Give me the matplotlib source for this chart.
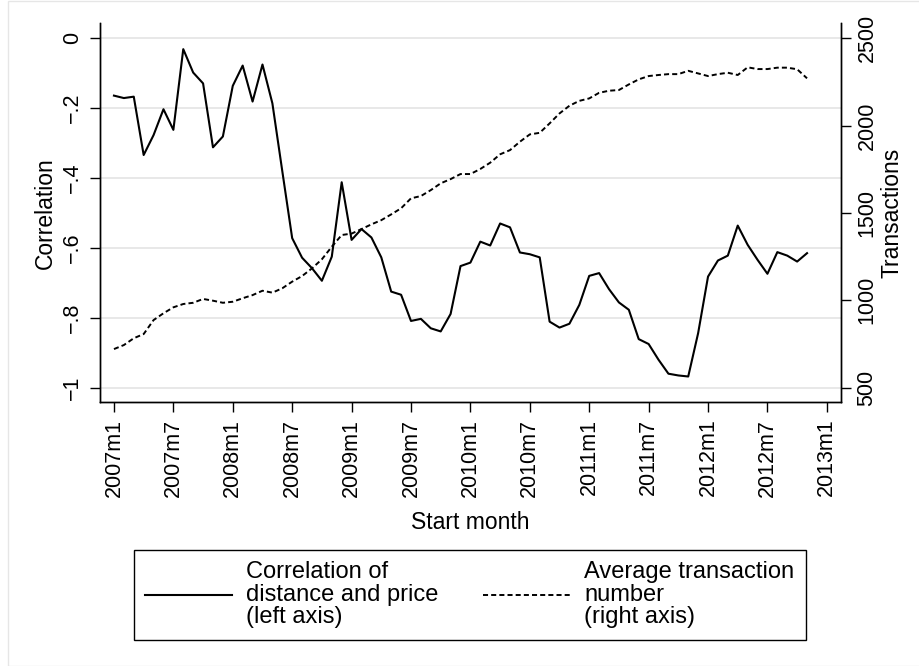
import numpy as np
import matplotlib.pyplot as plt
from matplotlib.patches import Rectangle

plt.rcParams['font.family'] = ['Liberation Sans', 'DejaVu Sans']

# ---- data (monthly, 2007m1 .. 2012m11) ----
month_idx = np.arange(71)                 # months since 2007m1
corr = [-0.164, -0.171, -0.167, -0.334, -0.277, -0.203, -0.262, -0.031, -0.098, -0.129,
        -0.312, -0.281, -0.136, -0.078, -0.181, -0.075, -0.186, -0.380, -0.572, -0.628,
        -0.658, -0.694, -0.625, -0.412, -0.577, -0.546, -0.570, -0.627, -0.725, -0.734,
        -0.809, -0.803, -0.830, -0.839, -0.789, -0.652, -0.642, -0.582, -0.593, -0.530,
        -0.541, -0.613, -0.618, -0.627, -0.811, -0.828, -0.817, -0.763, -0.680, -0.672,
        -0.718, -0.756, -0.777, -0.861, -0.875, -0.920, -0.960, -0.965, -0.968, -0.844,
        -0.682, -0.636, -0.622, -0.536, -0.591, -0.634, -0.674, -0.612, -0.622, -0.639,
        -0.615]
trans = [721, 744, 783, 807, 887, 926, 960, 979, 986, 1008,
         998, 986, 992, 1012, 1030, 1055, 1044, 1069, 1107, 1139,
         1183, 1235, 1307, 1374, 1382, 1408, 1435, 1459, 1492, 1527,
         1584, 1597, 1631, 1670, 1694, 1723, 1723, 1752, 1788, 1836,
         1860, 1908, 1950, 1959, 2013, 2070, 2114, 2142, 2156, 2188,
         2200, 2204, 2236, 2265, 2284, 2290, 2295, 2295, 2314, 2299,
         2284, 2295, 2303, 2290, 2334, 2324, 2324, 2332, 2332, 2323,
         2271]

xtick_pos = np.arange(0, 73, 6)
xtick_labels = ['2007m1', '2007m7', '2008m1', '2008m7', '2009m1', '2009m7', '2010m1',
                '2010m7', '2011m1', '2011m7', '2012m1', '2012m7', '2013m1']
ytick_left = [0, -0.2, -0.4, -0.6, -0.8, -1]
ytick_left_labels = ['0', '\u2212.2', '\u2212.4', '\u2212.6', '\u2212.8', '\u22121']
ytick_right = [500, 1000, 1500, 2000, 2500]

W, H = 920, 666
fig = plt.figure(figsize=(W / 100, H / 100), dpi=100)
fig.patches.append(Rectangle((8 / W, 0), 1.0, 1 - 1 / H, transform=fig.transFigure,
                             fill=False, edgecolor='#e6e6e6', lw=1.0))

ax = fig.add_axes([100 / W, 1 - 402 / H, (841.3 - 100) / W, (402 - 23.3) / H])
ax2 = ax.twinx()

l1, = ax.plot(month_idx, corr, color='black', lw=1.5)
l2, = ax2.plot(month_idx, trans, color='black', lw=1.4, linestyle=(0, (2.6, 1.6)))

ax.set_xlim(-1.41, 73.46)
ax.set_ylim(-1.041, 0.043)
ax2.set_ylim(500 - 0.041 * 2000, 2500 + 0.043 * 2000)

ax.set_xticks(xtick_pos)
ax.set_xticklabels(xtick_labels, rotation=90)
ax.set_yticks(ytick_left)
ax.set_yticklabels(ytick_left_labels, rotation=90, va='center')
ax2.set_yticks(ytick_right)
ax2.set_yticklabels([str(v) for v in ytick_right], rotation=90, va='center')

ax.yaxis.grid(True, color='#e6e6e6', lw=1.3)
ax.set_axisbelow(True)

for a in (ax, ax2):
    a.spines['top'].set_visible(False)
    for s in ('left', 'right', 'bottom'):
        a.spines[s].set_linewidth(1.0)
    a.tick_params(direction='out', length=7, width=1.0, labelsize=15.5, pad=5)
ax2.tick_params(pad=4)

ax.set_xlabel('Start month', fontsize=16.5, labelpad=10)
ax.set_ylabel('Correlation', fontsize=16.5, labelpad=4)
ax2.set_ylabel('Transactions', fontsize=16.5, labelpad=2)

leg = fig.legend([l1, l2],
                 ['Correlation of\ndistance and price\n(left axis)',
                  'Average transaction\nnumber\n(right axis)'],
                 ncol=2, loc='upper left', borderaxespad=0,
                 bbox_to_anchor=(134 / W, 1 - 550 / H),
                 fontsize=17, handlelength=3.69, handletextpad=0.59,
                 columnspacing=1.9, borderpad=0.47, fancybox=False,
                 framealpha=1, edgecolor='black')
leg.get_frame().set_linewidth(1.0)
for t in leg.get_texts():
    t.set_linespacing(1.04)

fig.savefig('out.png', dpi=100)
